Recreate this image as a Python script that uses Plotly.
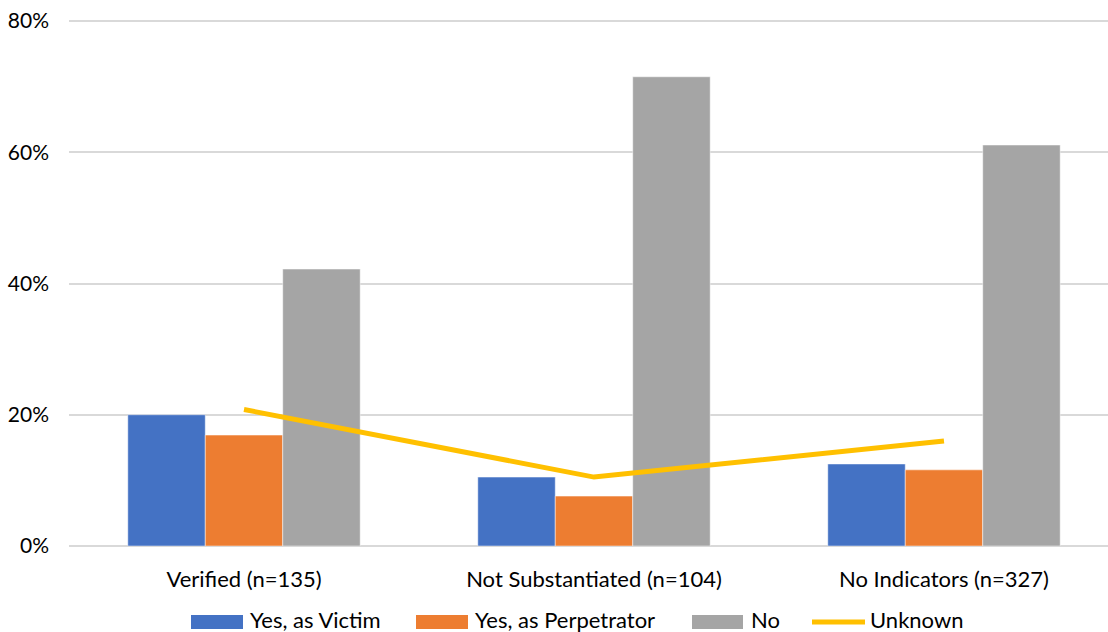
import plotly.graph_objects as go

categories = ["Verified (n=135)", "Not Substantiated (n=104)", "No Indicators (n=327)"]
yes_victim = [20.0, 10.5, 12.5]
yes_perpetrator = [16.9, 7.6, 11.6]
no_vals = [42.2, 71.5, 61.1]
unknown = [20.8, 10.5, 16.0]
y_ticks = [0, 20, 40, 60, 80]
y_tick_labels = ["0%", "20%", "40%", "60%", "80%"]
series_names = ["Yes, as Victim", "Yes, as Perpetrator", "No", "Unknown"]

BLUE = "#4472C4"
ORANGE = "#ED7D31"
GRAY = "#A5A5A5"
YELLOW = "#FFC000"
FONT = "Lato"

W, H = 1108, 632
L, R, T, B = 69, 0, 18, 86
PW, PH = W - L - R, H - T - B


def px(xp):
    return (xp - L) / PW


def py(yp):
    return (H - B - yp) / PH


fig = go.Figure()
for name, vals, col in [(series_names[0], yes_victim, BLUE),
                        (series_names[1], yes_perpetrator, ORANGE),
                        (series_names[2], no_vals, GRAY)]:
    fig.add_trace(go.Bar(x=categories, y=vals, name=name,
                         marker=dict(color=col, line=dict(color="rgba(255,255,255,0.6)", width=0.8)),
                         showlegend=False))
fig.add_trace(go.Scatter(x=categories, y=unknown, name=series_names[3], mode="lines",
                         line=dict(color=YELLOW, width=5), showlegend=False))

# manual legend (wide swatches like the original)
legend_items = [
    (series_names[0], BLUE, "rect", 191, 243, 248),
    (series_names[1], ORANGE, "rect", 416, 468, 473),
    (series_names[2], GRAY, "rect", 692, 743, 749),
    (series_names[3], YELLOW, "line", 812, 865, 868),
]
LEG_Y = 622
TXT_Y = 619
for name, col, kind, x0, x1, xt in legend_items:
    if kind == "rect":
        fig.add_shape(type="rect", xref="paper", yref="paper",
                      x0=px(x0), x1=px(x1), y0=py(LEG_Y - 7), y1=py(LEG_Y + 7),
                      fillcolor=col, line=dict(width=0), layer="above")
    else:
        fig.add_shape(type="line", xref="paper", yref="paper",
                      x0=px(x0), x1=px(x1), y0=py(LEG_Y), y1=py(LEG_Y),
                      line=dict(color=col, width=5), layer="above")
    fig.add_annotation(text=name, xref="paper", yref="paper", x=px(xt), y=py(TXT_Y),
                       xanchor="left", yanchor="middle", showarrow=False,
                       font=dict(family=FONT, size=22, color="#000000"))

fig.update_layout(
    width=W, height=H,
    margin=dict(l=L, r=R, t=T, b=B, autoexpand=False),
    paper_bgcolor="white", plot_bgcolor="white",
    font=dict(family=FONT, size=22, color="#000000"),
    barmode="group", bargap=0.336, bargroupgap=0,
    showlegend=False,
)
fig.update_xaxes(type="category", range=[-0.5, 2.4686], showgrid=False, showline=False,
                 ticks="", ticklabelstandoff=18, automargin=False, fixedrange=True,
                 tickfont=dict(size=22))
fig.update_yaxes(range=[0, 80.457], tickvals=y_ticks, ticktext=y_tick_labels,
                 showgrid=True, gridcolor="#D9D9D9", gridwidth=1.5, zeroline=True,
                 zerolinecolor="#D9D9D9", zerolinewidth=1.5, showline=False, ticks="",
                 ticklabelstandoff=19, automargin=False, fixedrange=True,
                 tickfont=dict(size=21))

fig.write_html("out.html", post_script="document.body.style.margin='0';",
               config={"displayModeBar": False})
